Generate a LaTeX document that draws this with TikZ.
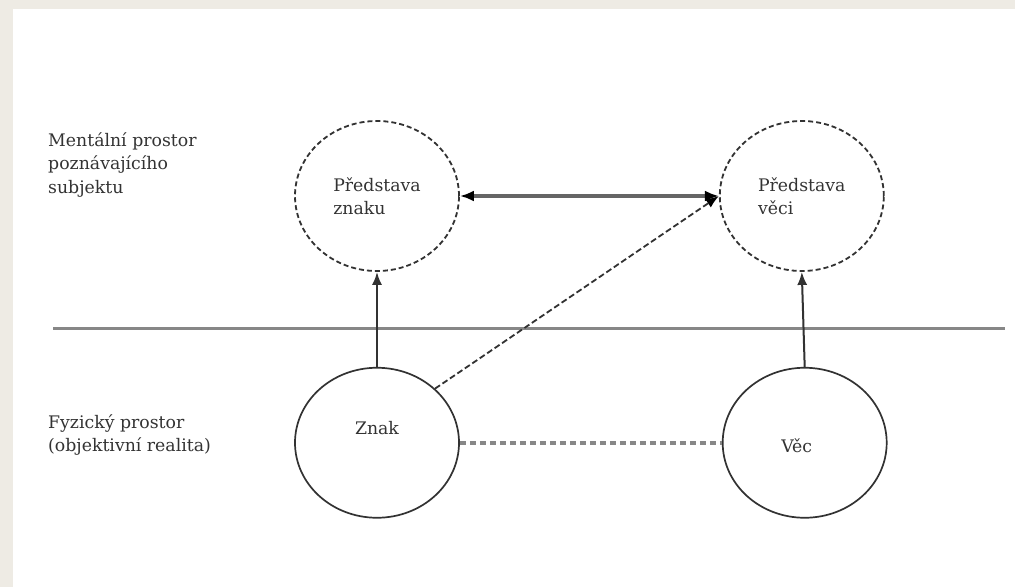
\documentclass[tikz,border=0pt]{standalone}
\usepackage{fontspec}
\setmainfont{DejaVu Serif}
\usetikzlibrary{positioning,shapes.geometric,arrows.meta}
\definecolor{pagebeige}{RGB}{238,235,228}
\definecolor{inkgray}{RGB}{50,50,50}
\definecolor{rulegray}{RGB}{135,135,135}
\tikzset{
  label text/.style={font=\fontsize{17.3}{23.5}\selectfont, text=black!80},
  idea/.style={ellipse, draw=inkgray, dash pattern=on 5pt off 3pt, line width=1.8pt,
    minimum width=164pt, minimum height=150pt, inner sep=0pt, align=left, label text},
  thing/.style={ellipse, draw=inkgray, line width=1.7pt,
    minimum width=164pt, minimum height=150pt, inner sep=0pt},
  region/.style={anchor=north west, inner sep=0pt, align=left, label text}
}
\begin{document}
\begin{tikzpicture}[x=1pt, y=-1pt]
  % page and white sheet
  \fill[pagebeige] (0,0) rectangle (1015,587);
  \fill[white] (13,9) rectangle (1015,587);
  \useasboundingbox (0,0) rectangle (1015,587);

  \node[region] (ment) at (48,132) {Mentální prostor\\poznávajícího\\subjektu};
  \node[region] (fyz) at (48,414) {Fyzický prostor\\(objektivní realita)};

  \node[idea] (pz) at (377,196) {Představa\\znaku};
  \node[idea, right=259pt of pz] (pv) {Představa\\věci};

  \node[
  thing,
  below=95pt of pz,
  label={[label text, yshift=15pt]center:Znak}] (zn) {};
  \node[
  thing,
  right=262pt of zn,
  label={[label text, xshift=-8pt, yshift=-3pt]center:Věc}] (ve) {};

  % boundary between the two spaces
  \coordinate (sepL) at (53,328);
  \coordinate (sepR) at (1005,328);
  \draw[rulegray, line width=3pt] (sepL)--(sepR);

  \draw[{Latex[length=14pt,width=11pt,color=black]}-{Latex[length=14pt,width=11pt,color=black]},
    rulegray!75!black, line width=3.2pt] (pz.east)--(pv.west);
  \draw[-{Latex[length=13pt,width=10pt]}, inkgray, line width=2pt] (zn.north)--(pz.south);
  \draw[-{Latex[length=13pt,width=10pt]}, inkgray, line width=2pt] (ve.north)--(pv.south);
  \draw[-{Latex[length=13pt,width=10pt,color=black]}, inkgray, line width=1.8pt,
    dash pattern=on 6pt off 3pt] (zn.43)--(pv.west);
  \draw[rulegray, line width=3.6pt, dash pattern=on 6pt off 4pt] (zn.east)--(ve.west);
\end{tikzpicture}
\end{document}
